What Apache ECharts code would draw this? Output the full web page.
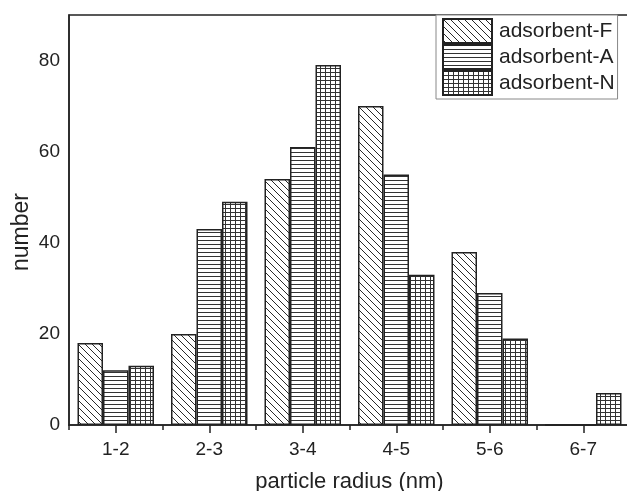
<!DOCTYPE html>
<html>
<head>
<meta charset="utf-8">
<script src="https://cdn.jsdelivr.net/npm/echarts@6/dist/echarts.min.js"></script>
<style>
  html, body { margin: 0; padding: 0; background: #fff; }
  #chart { width: 627px; height: 491px; }
</style>
</head>
<body>
<div id="chart"></div>
<script>
// data
const categories = ["1-2", "2-3", "3-4", "4-5", "5-6", "6-7"];
const seriesNames = ["adsorbent-F", "adsorbent-A", "adsorbent-N"];
const adsorbentF = [18, 20, 54, 70, 38, 0];
const adsorbentA = [12, 43, 61, 55, 29, 0];
const adsorbentN = [13, 49, 79, 33, 19, 7];
const yTicks = [0, 20, 40, 60, 80];

const ink = "#222";
const font = "'Liberation Sans', Arial, sans-serif";

// build small canvas tiles for the hatch fills
function makePattern(kind) {
  const c = document.createElement("canvas");
  const ctx = c.getContext("2d");
  if (kind === "diag") {
    c.width = 7; c.height = 7;
    ctx.fillStyle = "#fff";
    ctx.fillRect(0, 0, 7, 7);
    ctx.strokeStyle = "#2a2a2a";
    ctx.lineWidth = 1;
    ctx.beginPath();
    ctx.moveTo(-1, -1); ctx.lineTo(8, 8);
    ctx.moveTo(-8, -1); ctx.lineTo(1, 8);
    ctx.moveTo(6, -1); ctx.lineTo(15, 8);
    ctx.stroke();
  } else if (kind === "horiz") {
    c.width = 4; c.height = 4;
    ctx.fillStyle = "#fff";
    ctx.fillRect(0, 0, 4, 4);
    ctx.fillStyle = "#333";
    ctx.fillRect(0, 0, 4, 1);
  } else {
    c.width = 5; c.height = 4;
    ctx.fillStyle = "#fff";
    ctx.fillRect(0, 0, 5, 4);
    ctx.fillStyle = "#333";
    ctx.fillRect(0, 0, 5, 1);
    ctx.fillRect(0, 0, 1, 4);
  }
  return { image: c, repeat: "repeat" };
}

const patterns = [makePattern("diag"), makePattern("horiz"), makePattern("grid")];
const values = [adsorbentF, adsorbentA, adsorbentN];

const chart = echarts.init(document.getElementById("chart"));

const option = {
  backgroundColor: "#fff",
  animation: false,
  textStyle: { fontFamily: font, color: ink },
  grid: {
    left: 69,
    right: -3,
    top: 15,
    bottom: 66,
    outerBoundsMode: "none",
    show: true,
    borderColor: ink,
    borderWidth: 1.5,
    backgroundColor: "transparent",
  },
  legend: {
    orient: "vertical",
    left: 436,
    top: 15,
    padding: [3, 3, 3, 6],
    itemGap: 0,
    itemWidth: 49,
    itemHeight: 24,
    icon: "rect",
    borderColor: "#888",
    borderWidth: 1,
    backgroundColor: "#fff",
    textStyle: { fontSize: 21, color: ink, fontFamily: font, padding: [0, 0, 0, 2] },
    data: seriesNames,
  },
  xAxis: [
    {
      type: "category",
      data: categories,
      position: "bottom",
      name: "particle radius (nm)",
      nameLocation: "middle",
      nameGap: 46,
      nameTextStyle: { fontSize: 22, color: ink, fontFamily: font },
      axisLine: { show: true, lineStyle: { color: ink, width: 1.5 } },
      axisTick: { show: true, alignWithLabel: true, length: 8, lineStyle: { color: ink, width: 1.5 } },
      axisLabel: { fontSize: 19, color: ink, margin: 15, fontFamily: font },
      splitLine: { show: false },
    },
    {
      // short ticks at the category boundaries
      type: "category",
      data: categories,
      position: "bottom",
      axisLine: { show: false },
      axisTick: { show: true, alignWithLabel: false, length: 5, lineStyle: { color: ink, width: 1.5 } },
      axisLabel: { show: false },
      splitLine: { show: false },
    },
  ],
  yAxis: {
    type: "value",
    min: 0,
    max: 90,
    interval: 20,
    name: "number",
    nameLocation: "middle",
    nameGap: 36,
    nameMoveOverlap: false,
    nameTextStyle: { fontSize: 23, color: ink, fontFamily: font, padding: [0, 24, 0, 0] },
    axisLine: { show: true, lineStyle: { color: ink, width: 1.5 } },
    axisTick: { show: false },
    axisLabel: {
      fontSize: 19,
      color: ink,
      margin: 9,
      fontFamily: font,
      showMaxLabel: false,
      formatter: (v) => (yTicks.includes(v) ? String(v) : ""),
    },
    splitLine: { show: false },
  },
  series: seriesNames.map((name, i) => ({
    name: name,
    type: "bar",
    xAxisIndex: 0,
    data: values[i],
    barWidth: 25.5,
    barGap: "0%",
    itemStyle: {
      color: patterns[i],
      borderColor: ink,
      borderWidth: 1.5,
    },
    emphasis: { disabled: true },
  })),
};

chart.setOption(option);
</script>
</body>
</html>
